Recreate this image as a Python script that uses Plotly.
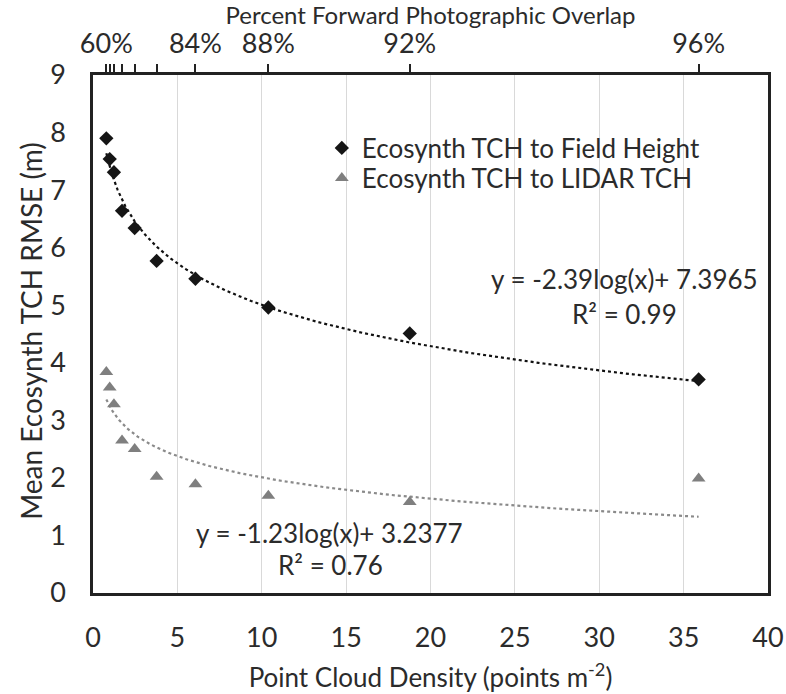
import numpy as np
import plotly.graph_objects as go

# Data
density = [0.79, 0.99, 1.24, 1.72, 2.47, 3.77, 6.07, 10.39, 18.77, 35.89]
overlap_labels = ["60%", "", "", "", "", "", "84%", "88%", "92%", "96%"]
field_rmse = [7.90, 7.54, 7.31, 6.64, 6.34, 5.77, 5.46, 4.96, 4.51, 3.71]
lidar_rmse = [3.84, 3.57, 3.28, 2.65, 2.50, 2.02, 1.89, 1.69, 1.58, 1.99]

# Trend line coefficients (as printed on the chart, log = log10)
field_slope, field_icpt = -2.39, 7.3965
lidar_slope, lidar_icpt = -1.23, 3.2377

FONT = "Lato"
TXT = "#2b2b2b"

xs = np.geomspace(min(density), max(density), 200)

fig = go.Figure()
fig.add_trace(go.Scatter(x=xs, y=field_slope * np.log10(xs) + field_icpt, mode="lines",
                         line=dict(color="#111111", width=2.2, dash="dot"),
                         showlegend=False, hoverinfo="skip"))
fig.add_trace(go.Scatter(x=xs, y=lidar_slope * np.log10(xs) + lidar_icpt, mode="lines",
                         line=dict(color="#8a8a8a", width=2.2, dash="dot"),
                         showlegend=False, hoverinfo="skip"))
fig.add_trace(go.Scatter(x=density, y=field_rmse, mode="markers",
                         name="Ecosynth TCH to Field Height", legend="legend",
                         marker=dict(symbol="diamond", size=11, color="#151515")))
fig.add_trace(go.Scatter(x=density, y=lidar_rmse, mode="markers",
                         name="Ecosynth TCH to LIDAR TCH", legend="legend2",
                         marker=dict(symbol="triangle-up", size=12, color="#7f7f7f")))
# invisible trace to activate top axis
fig.add_trace(go.Scatter(x=density, y=field_rmse, xaxis="x2", mode="markers",
                         marker=dict(opacity=0), showlegend=False, hoverinfo="skip"))

leg_common = dict(xanchor="left", yanchor="middle", font=dict(size=26, color=TXT),
                  bgcolor="rgba(0,0,0,0)", itemwidth=30, borderwidth=0)

fig.update_layout(
    width=786, height=694,
    margin=dict(l=93, r=18, t=75, b=101),
    paper_bgcolor="white", plot_bgcolor="white",
    font=dict(family=FONT, color=TXT),
    showlegend=True,
    legend=dict(x=0.339, y=0.859, **leg_common),
    legend2=dict(x=0.339, y=0.801, **leg_common),
    xaxis=dict(range=[0, 40], tickvals=[0, 5, 10, 15, 20, 25, 30, 35, 40],
               automargin=False,
               showgrid=True, gridcolor="#d9d9d9", gridwidth=1,
               zeroline=False, showline=True, linecolor="#222222", linewidth=2.5,
               mirror=True, ticks="", tickfont=dict(size=27, color=TXT),
               ticklabelstandoff=19,
               title=dict(text="Point Cloud Density (points m<sup>-2</sup>)",
                          font=dict(size=26, color=TXT), standoff=17)),
    xaxis2=dict(range=[0, 40], overlaying="x", side="top", tickvals=density,
                automargin=False,
                ticktext=overlap_labels, ticks="outside", ticklen=10, tickwidth=2,
                tickcolor="#222222", showgrid=False, zeroline=False, showline=False,
                tickfont=dict(size=27, color=TXT),
                title=dict(text="Percent Forward Photographic Overlap",
                           font=dict(size=24, color=TXT), standoff=0)),
    yaxis=dict(range=[0, 9], tickvals=list(range(10)), showgrid=False,
               automargin=False,
               zeroline=False, showline=True, linecolor="#222222", linewidth=2.5,
               mirror=True, ticks="", tickfont=dict(size=27, color=TXT),
               ticklabelstandoff=19),
    annotations=[
        dict(x=-0.092, y=0.506, xref="paper", yref="paper", xanchor="center",
             yanchor="middle", textangle=-90, text="Mean Ecosynth TCH RMSE (m)",
             showarrow=False, font=dict(size=28, color=TXT)),
        dict(x=31.5, y=5.455, xref="x", yref="y", xanchor="center", yanchor="middle",
             text="y = -2.39log(x)+ 7.3965", showarrow=False,
             font=dict(size=26, color=TXT)),
        dict(x=31.5, y=4.85, xref="x", yref="y", xanchor="center", yanchor="middle",
             text="R² = 0.99", showarrow=False, font=dict(size=26, color=TXT)),
        dict(x=14.04, y=1.04, xref="x", yref="y", xanchor="center", yanchor="middle",
             text="y = -1.23log(x)+ 3.2377", showarrow=False,
             font=dict(size=26, color=TXT)),
        dict(x=14.1, y=0.49, xref="x", yref="y", xanchor="center", yanchor="middle",
             text="R² = 0.76", showarrow=False, font=dict(size=26, color=TXT)),
    ],
)

fig.write_html("out.html", config={"displayModeBar": False},
               post_script="document.body.style.margin='0px';"
                           "document.body.style.overflow='hidden';")
